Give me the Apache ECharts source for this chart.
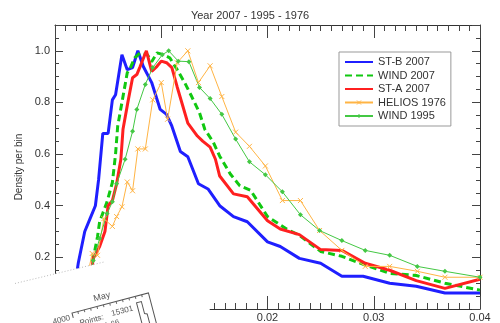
<!DOCTYPE html>
<html>
<head>
<meta charset="utf-8">
<script src="https://cdn.jsdelivr.net/npm/echarts@6/dist/echarts.min.js"></script>
<style>
  html, body { margin: 0; padding: 0; background: #fff; }
  #chart { width: 500px; height: 323px; }
</style>
</head>
<body>
<div id="chart"></div>
<script>
// Normalised velocity-fluctuation histograms, [bin, density] pairs.
const stB2007 = [
  [0.0019, 0.10], [0.0022, 0.18], [0.0028, 0.30], [0.0033, 0.35], [0.0038, 0.40], [0.0041, 0.50],
  [0.0045, 0.68], [0.0050, 0.68], [0.0054, 0.81], [0.0057, 0.83], [0.0063, 0.985],
  [0.0068, 0.927], [0.0073, 0.935], [0.0078, 1.0], [0.0083, 0.94], [0.0091, 0.877],
  [0.0099, 0.773], [0.0105, 0.754], [0.0110, 0.708], [0.0118, 0.61], [0.0125, 0.59],
  [0.0135, 0.485], [0.0144, 0.465], [0.0155, 0.40], [0.0168, 0.358], [0.0181, 0.338],
  [0.0200, 0.26], [0.0212, 0.242], [0.0230, 0.196], [0.0250, 0.177], [0.0270, 0.127],
  [0.0290, 0.127], [0.0315, 0.10], [0.0340, 0.088], [0.0367, 0.062], [0.0400, 0.062]
];
const wind2007 = [
  [0.0033, 0.10], [0.0036, 0.196], [0.0040, 0.28], [0.0042, 0.338], [0.0049, 0.415], [0.0054, 0.49],
  [0.0057, 0.60], [0.0059, 0.708], [0.0064, 0.823], [0.0068, 0.915], [0.0071, 0.935],
  [0.0075, 0.973], [0.0080, 0.992], [0.0087, 0.985], [0.0091, 0.958], [0.0096, 0.992],
  [0.0102, 0.985], [0.0108, 0.973], [0.0115, 0.927], [0.0122, 0.877], [0.0129, 0.82],
  [0.0136, 0.76], [0.0141, 0.696], [0.0149, 0.646], [0.0155, 0.592], [0.0165, 0.523],
  [0.0174, 0.477], [0.0184, 0.46], [0.0200, 0.358], [0.0218, 0.31], [0.0230, 0.285],
  [0.0250, 0.223], [0.0270, 0.204], [0.0292, 0.17], [0.0315, 0.138], [0.0340, 0.13],
  [0.0367, 0.10], [0.0400, 0.073]
];
const stA2007 = [
  [0.0033, 0.10], [0.0036, 0.196], [0.0042, 0.242], [0.0047, 0.30], [0.0050, 0.40], [0.0054, 0.42],
  [0.0058, 0.485], [0.0062, 0.58], [0.0064, 0.696], [0.0069, 0.81], [0.0073, 0.896],
  [0.0077, 0.908], [0.0080, 0.938], [0.0086, 1.0], [0.0091, 0.92], [0.0096, 0.94],
  [0.0100, 0.96], [0.0105, 0.954], [0.0110, 0.935], [0.0115, 0.86], [0.0120, 0.79],
  [0.0125, 0.72], [0.0134, 0.67], [0.0139, 0.65], [0.0146, 0.627], [0.0151, 0.58],
  [0.0155, 0.515], [0.0168, 0.446], [0.0181, 0.435], [0.0200, 0.342], [0.0212, 0.31],
  [0.0230, 0.288], [0.0250, 0.23], [0.0270, 0.227], [0.0292, 0.177], [0.0315, 0.15],
  [0.0340, 0.11], [0.0367, 0.08], [0.0400, 0.115]
];
const helios1976 = [
  [0.0030, 0.12], [0.0035, 0.215], [0.0040, 0.208], [0.0046, 0.35], [0.0054, 0.32], [0.0058, 0.358],
  [0.0063, 0.396], [0.0068, 0.492], [0.0073, 0.458], [0.0078, 0.62], [0.0085, 0.62],
  [0.0092, 0.81], [0.0100, 0.877], [0.0106, 0.735], [0.0115, 0.954], [0.0125, 1.0],
  [0.0135, 0.877], [0.0146, 0.942], [0.0157, 0.823], [0.0170, 0.685], [0.0183, 0.63],
  [0.0198, 0.554], [0.0214, 0.42], [0.0231, 0.42], [0.0249, 0.304], [0.0270, 0.227],
  [0.0292, 0.165], [0.0315, 0.165], [0.0341, 0.146], [0.0367, 0.123], [0.0400, 0.123]
];
const wind1995 = [
  [0.0032, 0.11], [0.0036, 0.188], [0.0042, 0.273], [0.0049, 0.37], [0.0054, 0.415], [0.0058, 0.485],
  [0.0066, 0.58], [0.0073, 0.688], [0.0077, 0.773], [0.0085, 0.87], [0.0092, 0.935],
  [0.0101, 0.985], [0.0107, 1.0], [0.0116, 0.96], [0.0126, 0.958], [0.0136, 0.858],
  [0.0146, 0.815], [0.0157, 0.754], [0.0170, 0.658], [0.0183, 0.57], [0.0198, 0.52],
  [0.0214, 0.454], [0.0231, 0.365], [0.0249, 0.304], [0.0270, 0.265], [0.0292, 0.227],
  [0.0315, 0.208], [0.0341, 0.165], [0.0367, 0.146], [0.0400, 0.123]
];

const seriesNames = ['ST-B 2007', 'WIND 2007', 'ST-A 2007', 'HELIOS 1976', 'WIND 1995'];
const titleText = 'Year 2007 - 1995 - 1976';
const yAxisTitle = 'Density per bin';
const xRange = [0, 0.04];
const yRange = [0, 1.1];
const xMajor = 0.01, xMinor = 0.001;
const yMajor = 0.2, yMinor = 0.05;

// Small inset panel that lies over the lower-left corner.
const insetTexts = { month: 'May', count: '4000', points: 'Points:', npts: '15301', ratio: '1.66' };

const FONT = 'Liberation Sans, Arial, sans-serif';
const AXIS_COLOR = '#333';
const ORANGE = '#ffb444';

function xAxisDef(pos, interval, tickLen, showLabel, showLine) {
  return {
    type: 'value', position: pos, min: xRange[0], max: xRange[1], interval: interval,
    axisLine: { show: showLine, onZero: false, lineStyle: { color: AXIS_COLOR, width: 1 } },
    axisTick: { show: true, inside: true, length: tickLen, lineStyle: { color: '#444', width: 1 } },
    axisLabel: { show: showLabel, margin: 3, color: '#333', fontSize: 11, fontFamily: FONT,
      formatter: v => v.toFixed(2) },
    splitLine: { show: false }
  };
}
function yAxisDef(pos, interval, tickLen, showLabel, showLine, withName) {
  const ax = {
    type: 'value', position: pos, min: yRange[0], max: yRange[1], interval: interval,
    axisLine: { show: showLine, onZero: false, lineStyle: { color: AXIS_COLOR, width: 1 } },
    axisTick: { show: true, inside: true, length: tickLen, lineStyle: { color: '#444', width: 1 } },
    axisLabel: { show: showLabel, margin: 5, color: '#333', fontSize: 11, fontFamily: FONT,
      formatter: v => (Math.abs(v / yMajor - Math.round(v / yMajor)) < 1e-6 ? v.toFixed(1) : '') },
    splitLine: { show: false }
  };
  if (withName) {
    ax.name = yAxisTitle;
    ax.nameLocation = 'middle';
    ax.nameGap = 28;
    ax.nameTextStyle = { color: '#333', fontSize: 10, fontFamily: FONT };
  }
  return ax;
}

const chart = echarts.init(document.getElementById('chart'), null, { renderer: 'canvas' });

const crossPath = 'path://M0,0L10,10M0,10L10,0';
const noSymbol = { opacity: 0 };

const insetChild = (el) => Object.assign({ z: 105 }, el);

const option = {
  animation: false,
  backgroundColor: '#fff',
  title: {
    text: titleText, left: 'center', top: 5,
    textStyle: { color: '#333', fontSize: 11, fontWeight: 'normal', fontFamily: FONT }
  },
  grid: { left: 55, right: 20, top: 25, bottom: 12, containLabel: false },
  legend: {
    orient: 'vertical', left: 339, top: 52,
    backgroundColor: '#fff', borderColor: '#999', borderWidth: 1,
    padding: [4, 5, 4, 5], itemGap: 1.5, itemWidth: 28, itemHeight: 5,
    textStyle: { color: '#333', fontSize: 11, fontFamily: FONT, lineHeight: 12 },
    data: [
      { name: seriesNames[0], itemStyle: noSymbol },
      { name: seriesNames[1], itemStyle: noSymbol },
      { name: seriesNames[2], itemStyle: noSymbol },
      { name: seriesNames[3],
        itemStyle: { color: 'transparent', borderColor: ORANGE, borderWidth: 1 } },
      { name: seriesNames[4] }
    ]
  },
  xAxis: [
    xAxisDef('bottom', xMajor, 13, true, true),
    xAxisDef('bottom', xMinor, 6, false, false),
    xAxisDef('top', xMajor, 13, false, true),
    xAxisDef('top', xMinor, 6, false, false)
  ],
  yAxis: [
    yAxisDef('left', yMajor, 8, true, true, true),
    yAxisDef('left', yMinor, 4, false, false, false),
    yAxisDef('right', yMajor, 8, false, true, false),
    yAxisDef('right', yMinor, 4, false, false, false)
  ],
  series: [
    { name: seriesNames[0], type: 'line', data: stB2007, symbol: 'none',
      lineStyle: { color: '#1f1fff', width: 3 }, itemStyle: { color: '#1f1fff' } },
    { name: seriesNames[1], type: 'line', data: wind2007, symbol: 'none',
      lineStyle: { color: '#11c811', width: 3, type: [7, 4] }, itemStyle: { color: '#11c811' } },
    { name: seriesNames[2], type: 'line', data: stA2007, symbol: 'none',
      lineStyle: { color: '#ff2020', width: 3 }, itemStyle: { color: '#ff2020' } },
    { name: seriesNames[3], type: 'line', data: helios1976, symbol: crossPath, symbolSize: 5,
      lineStyle: { color: ORANGE, width: 1 },
      itemStyle: { color: ORANGE, borderColor: ORANGE, borderWidth: 1 } },
    { name: seriesNames[4], type: 'line', data: wind1995, symbol: 'diamond', symbolSize: 5,
      lineStyle: { color: '#44c844', width: 1 }, itemStyle: { color: '#44c844' } }
  ],
  graphic: [
    {
      type: 'polygon', z: 100, silent: true,
      shape: { points: [[0, 287], [193, 241], [213, 323], [0, 323]] },
      style: { fill: '#fff' }
    },
    {
      type: 'polyline', z: 101, silent: true,
      shape: { points: [[15, 283.5], [104, 262]] },
      style: { stroke: '#bbb', lineWidth: 1, lineDash: [1, 2], fill: null }
    },
    {
      type: 'group', z: 105, x: 72, y: 313, rotation: 0.257, silent: true,
      children: [
        insetChild({ type: 'polyline', shape: { points: [[0, 5], [0, 0], [79, 0], [79, 40]] },
          style: { stroke: '#555', lineWidth: 1, fill: null } }),
        ...Array.from({ length: 11 }, (_, i) => insetChild({
          type: 'line', shape: { x1: 6 + i * 6.6, y1: 0, x2: 6 + i * 6.6, y2: 2.5 },
          style: { stroke: '#666', lineWidth: 1 }
        })),
        insetChild({ type: 'polyline', shape: { points: [[65, 30], [65, 6.5], [70, 6.5], [70, 19], [72.5, 20], [72.5, 30]] },
          style: { stroke: '#555', lineWidth: 1, fill: null } }),
        insetChild({ type: 'text', x: 33, y: -8,
          style: { text: insetTexts.month, fill: '#555', font: '9px ' + FONT, align: 'center', verticalAlign: 'middle' } }),
        insetChild({ type: 'text', x: -3, y: 4,
          style: { text: insetTexts.count, fill: '#555', font: '8px ' + FONT, align: 'right', verticalAlign: 'middle' } }),
        insetChild({ type: 'text', x: 5, y: 12,
          style: { text: insetTexts.points, fill: '#555', font: '8px ' + FONT, align: 'left', verticalAlign: 'middle' } }),
        insetChild({ type: 'text', x: 38, y: 11,
          style: { text: insetTexts.npts, fill: '#555', font: '8px ' + FONT, align: 'left', verticalAlign: 'middle' } }),
        insetChild({ type: 'text', x: 28, y: 21,
          style: { text: insetTexts.ratio, fill: '#555', font: '8px ' + FONT, align: 'left', verticalAlign: 'middle' } })
      ]
    }
  ]
};

chart.setOption(option);
</script>
</body>
</html>
